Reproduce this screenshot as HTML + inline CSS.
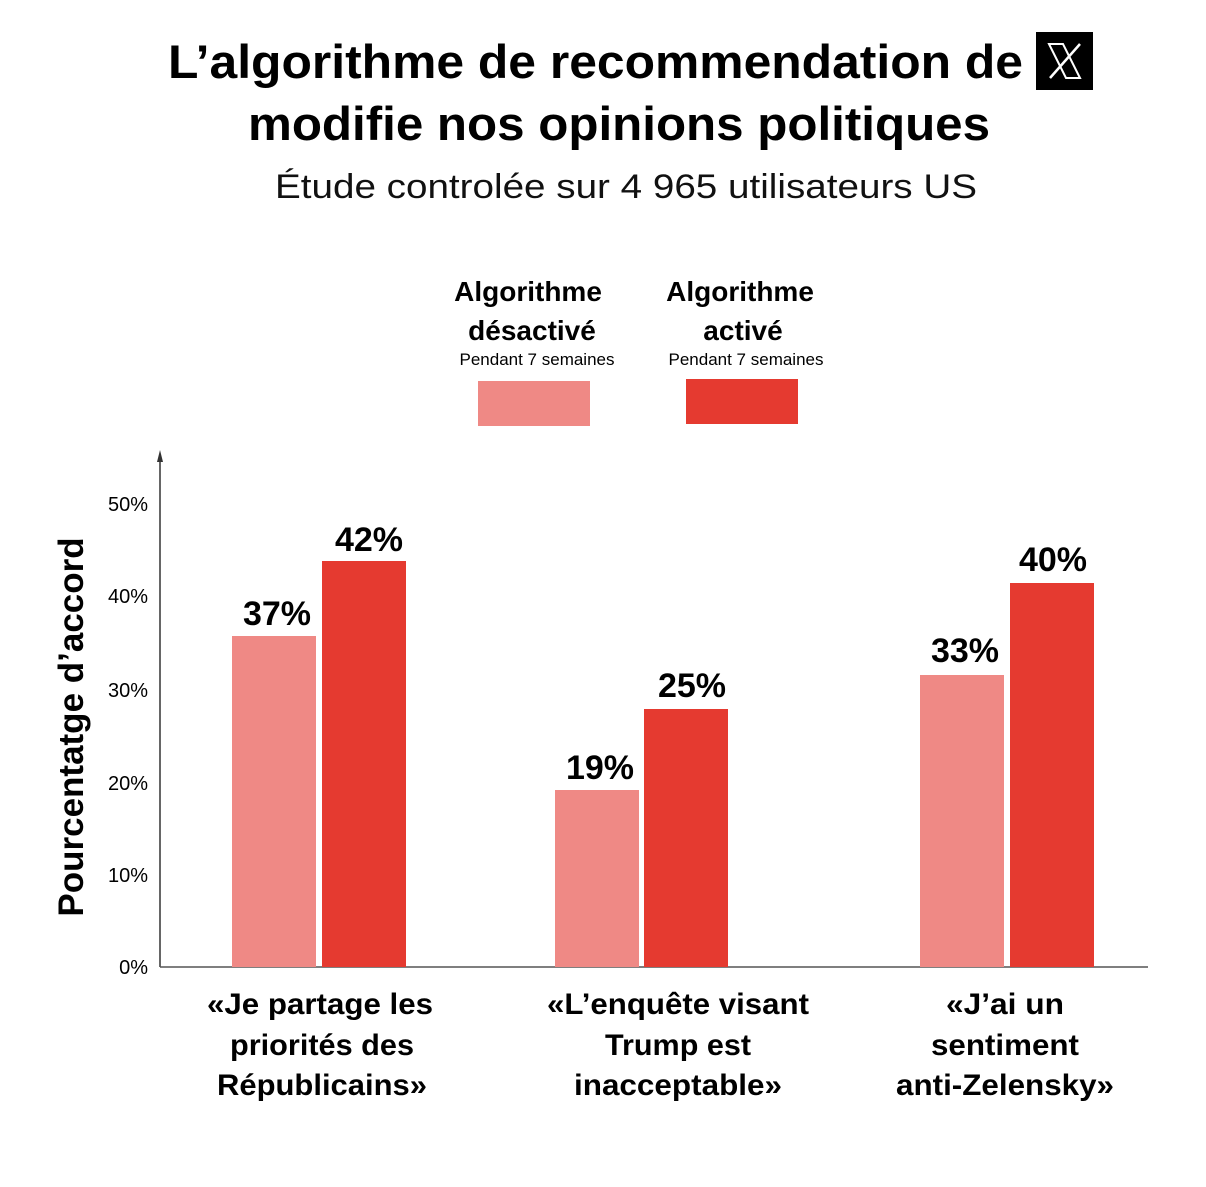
<!DOCTYPE html>
<html><head><meta charset="utf-8"><style>
html,body{margin:0;padding:0;background:#fff}
svg{display:block}
text{font-family:"Liberation Sans",sans-serif;fill:#000}
.b{font-weight:bold}
</style></head><body>
<svg width="1206" height="1187" viewBox="0 0 1206 1187">
<rect width="1206" height="1187" fill="#fff"/>
<text class="b" x="168" y="78" font-size="47" textLength="855" lengthAdjust="spacingAndGlyphs">L’algorithme de recommendation de</text>
<rect x="1036" y="32" width="57" height="58" fill="#000"/>
<g stroke="#fff" fill="none" stroke-width="2.5"><path d="M1049 44 L1066 78 L1080 78 L1063 44 Z" stroke-width="2"/><path d="M1080 44 L1050 78"/></g>
<text class="b" x="248" y="140" font-size="47" textLength="742" lengthAdjust="spacingAndGlyphs">modifie nos opinions politiques</text>
<text x="275" y="198" font-size="34" textLength="702" lengthAdjust="spacingAndGlyphs" style="fill:#111">Étude controlée sur 4 965 utilisateurs US</text>

<g text-anchor="middle">
<text class="b" x="528" y="301" font-size="28">Algorithme</text>
<text class="b" x="532" y="340" font-size="28">désactivé</text>
<text x="537" y="365" font-size="17">Pendant 7 semaines</text>
<text class="b" x="740" y="301" font-size="28">Algorithme</text>
<text class="b" x="743" y="340" font-size="28">activé</text>
<text x="746" y="365" font-size="17">Pendant 7 semaines</text>
</g>
<rect x="478" y="381" width="112" height="45" fill="#ef8985"/>
<rect x="686" y="379" width="112" height="45" fill="#e53a30"/>

<line x1="160" y1="455" x2="160" y2="967" stroke="#333" stroke-width="1.5"/>
<path d="M157 462 L160 450 L163 462 Z" fill="#333"/>
<line x1="160" y1="967" x2="1148" y2="967" stroke="#555" stroke-width="1.5"/>

<g text-anchor="end" font-size="20" fill="#222">
<text x="148" y="511">50%</text>
<text x="148" y="603">40%</text>
<text x="148" y="697">30%</text>
<text x="148" y="790">20%</text>
<text x="148" y="882">10%</text>
<text x="148" y="974">0%</text>
</g>
<text class="b" transform="translate(83,727) rotate(-90)" text-anchor="middle" font-size="35">Pourcentatge d’accord</text>

<rect x="232" y="636" width="84" height="331" fill="#ef8985"/>
<rect x="322" y="561" width="84" height="406" fill="#e53a30"/>
<rect x="555" y="790" width="84" height="177" fill="#ef8985"/>
<rect x="644" y="709" width="84" height="258" fill="#e53a30"/>
<rect x="920" y="675" width="84" height="292" fill="#ef8985"/>
<rect x="1010" y="583" width="84" height="384" fill="#e53a30"/>

<g class="b" text-anchor="middle" font-size="34" font-weight="bold">
<text x="277" y="625">37%</text>
<text x="369" y="551">42%</text>
<text x="600" y="779">19%</text>
<text x="692" y="697">25%</text>
<text x="965" y="662">33%</text>
<text x="1053" y="571">40%</text>
</g>

<g text-anchor="middle" font-size="30" font-weight="bold">
<text x="320" y="1014" textLength="226" lengthAdjust="spacingAndGlyphs">«Je partage les</text>
<text x="322" y="1055" textLength="184" lengthAdjust="spacingAndGlyphs">priorités des</text>
<text x="322" y="1095" textLength="210" lengthAdjust="spacingAndGlyphs">Républicains»</text>
<text x="678" y="1014" textLength="262" lengthAdjust="spacingAndGlyphs">«L’enquête visant</text>
<text x="678" y="1055" textLength="146" lengthAdjust="spacingAndGlyphs">Trump est</text>
<text x="678" y="1095" textLength="208" lengthAdjust="spacingAndGlyphs">inacceptable»</text>
<text x="1005" y="1014" textLength="118" lengthAdjust="spacingAndGlyphs">«J’ai un</text>
<text x="1005" y="1055" textLength="148" lengthAdjust="spacingAndGlyphs">sentiment</text>
<text x="1005" y="1095" textLength="218" lengthAdjust="spacingAndGlyphs">anti-Zelensky»</text>
</g>
</svg>
</body></html>
